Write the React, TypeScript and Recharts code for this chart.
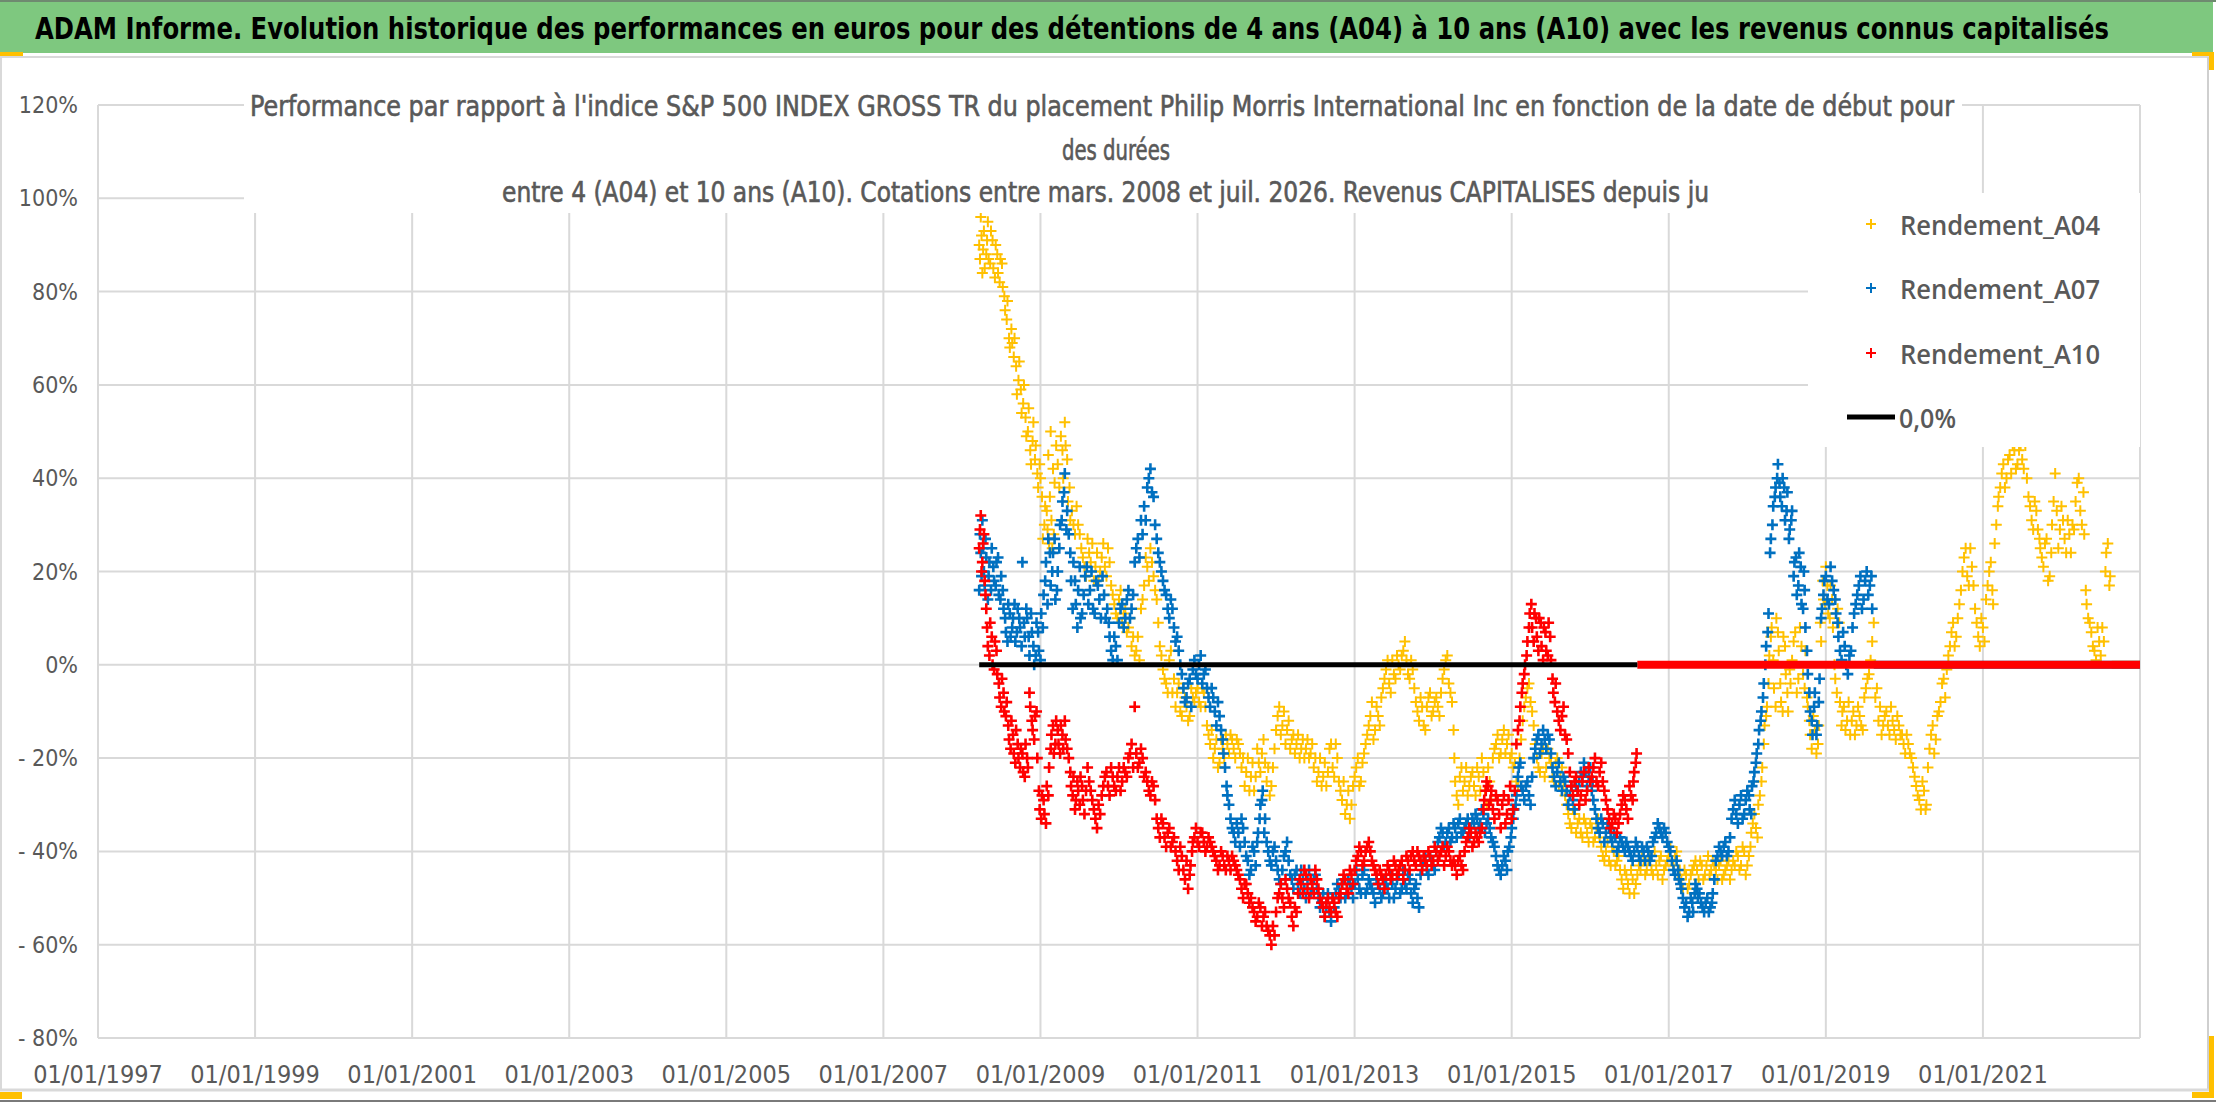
import React from "react";
import { ScatterChart, Scatter, XAxis, YAxis, CartesianGrid } from "recharts";

// dates are decimal years, values are % vs the S&P 500 gross TR index
const xTickYears = [1997, 1999, 2001, 2003, 2005, 2007, 2009, 2011, 2013, 2015, 2017, 2019, 2021];
const yTicks = [-80, -60, -40, -20, 0, 20, 40, 60, 80, 100, 120];

const rendementA04: [number, number][] = [
  [2008.22, 90], [2008.24, 96], [2008.26, 84], [2008.28, 93], [2008.31, 88], [2008.33, 95], [2008.36, 86], [2008.39, 91],
  [2008.42, 83], [2008.45, 88], [2008.48, 82], [2008.51, 86], [2008.54, 79], [2008.57, 74], [2008.6, 70], [2008.63, 72],
  [2008.66, 66], [2008.69, 64], [2008.72, 61], [2008.75, 59], [2008.78, 56], [2008.81, 53], [2008.84, 50], [2008.87, 46],
  [2008.9, 48], [2008.93, 44], [2008.96, 41], [2008.99, 43], [2009.02, 36], [2009.05, 30], [2009.08, 33], [2009.11, 26],
  [2009.14, 31], [2009.17, 28], [2009.1, 45], [2009.13, 50], [2009.16, 42], [2009.2, 47], [2009.24, 38], [2009.28, 46],
  [2009.31, 52], [2009.34, 44], [2009.37, 38], [2009.4, 33], [2009.44, 28], [2009.48, 30], [2009.52, 25], [2009.56, 21],
  [2009.6, 27], [2009.64, 22], [2009.68, 18], [2009.72, 24], [2009.76, 20], [2009.8, 26], [2009.84, 19], [2009.88, 22],
  [2009.92, 15], [2009.96, 11], [2010.0, 14], [2010.04, 9], [2010.08, 12], [2010.12, 8], [2010.16, 4], [2010.2, 2],
  [2010.24, 6], [2010.28, 12], [2010.32, 17], [2010.36, 21], [2010.4, 25], [2010.44, 19], [2010.48, 14], [2010.52, 4],
  [2010.56, -1], [2010.6, -4], [2010.64, 1], [2010.68, -6], [2010.72, -9], [2010.76, -4], [2010.8, -11], [2010.84, -7],
  [2010.88, -12], [2010.92, -5], [2010.96, -8], [2011.0, -5], [2011.04, -9], [2011.08, -6], [2011.12, -13], [2011.16, -17],
  [2011.2, -20], [2011.24, -16], [2011.28, -21], [2011.32, -18], [2011.36, -15], [2011.4, -19], [2011.44, -16], [2011.48, -20],
  [2011.52, -17], [2011.56, -22], [2011.6, -26], [2011.64, -20], [2011.68, -24], [2011.72, -27], [2011.76, -18], [2011.8, -23],
  [2011.84, -16], [2011.88, -25], [2011.92, -28], [2011.96, -22], [2012.0, -14], [2012.04, -9], [2012.08, -13], [2012.12, -17],
  [2012.16, -12], [2012.2, -16], [2012.24, -19], [2012.28, -15], [2012.32, -18], [2012.36, -20], [2012.4, -16], [2012.44, -19],
  [2012.48, -22], [2012.52, -25], [2012.56, -20], [2012.6, -24], [2012.64, -26], [2012.68, -18], [2012.72, -22], [2012.76, -17],
  [2012.8, -25], [2012.84, -29], [2012.88, -32], [2012.92, -27], [2012.96, -30], [2013.0, -24], [2013.04, -20], [2013.08, -25],
  [2013.12, -19], [2013.16, -15], [2013.2, -11], [2013.24, -16], [2013.28, -9], [2013.32, -13], [2013.36, -5], [2013.4, -1],
  [2013.44, -4], [2013.48, 1], [2013.52, -3], [2013.56, 0], [2013.6, 2], [2013.64, 5], [2013.68, -2], [2013.72, 1],
  [2013.76, -5], [2013.8, -10], [2013.84, -7], [2013.88, -13], [2013.92, -9], [2013.96, -6], [2014.0, -10], [2014.04, -7],
  [2014.08, -11], [2014.12, -3], [2014.16, 1], [2014.2, -4], [2014.24, -8], [2014.27, -20], [2014.3, -28], [2014.34, -24],
  [2014.38, -27], [2014.42, -22], [2014.46, -26], [2014.5, -23], [2014.54, -28], [2014.58, -24], [2014.62, -20], [2014.66, -27],
  [2014.7, -22], [2014.74, -29], [2014.78, -18], [2014.82, -15], [2014.86, -19], [2014.9, -14], [2014.94, -17], [2014.98, -20],
  [2015.02, -22], [2015.06, -25], [2015.1, -20], [2015.14, -12], [2015.18, -7], [2015.22, -4], [2015.26, -10], [2015.3, -17],
  [2015.34, -22], [2015.38, -19], [2015.42, -24], [2015.46, -18], [2015.5, -21], [2015.54, -25], [2015.58, -20], [2015.62, -24],
  [2015.66, -26], [2015.7, -30], [2015.74, -34], [2015.78, -31], [2015.82, -36], [2015.86, -33], [2015.9, -37], [2015.94, -34],
  [2015.98, -38], [2016.02, -35], [2016.06, -37], [2016.1, -33], [2016.14, -39], [2016.18, -42], [2016.22, -38], [2016.26, -43],
  [2016.3, -40], [2016.34, -42], [2016.38, -44], [2016.42, -48], [2016.46, -45], [2016.5, -49], [2016.54, -46], [2016.58, -47],
  [2016.62, -43], [2016.66, -40], [2016.7, -45], [2016.74, -42], [2016.78, -44], [2016.82, -40], [2016.86, -45], [2016.9, -41],
  [2016.94, -44], [2016.98, -42], [2017.02, -39], [2017.06, -43], [2017.1, -40], [2017.14, -44], [2017.18, -48], [2017.22, -45],
  [2017.26, -47], [2017.3, -44], [2017.34, -42], [2017.38, -46], [2017.42, -43], [2017.46, -45], [2017.5, -41], [2017.54, -44],
  [2017.58, -43], [2017.62, -46], [2017.66, -42], [2017.7, -45], [2017.74, -43], [2017.78, -46], [2017.82, -42], [2017.86, -40],
  [2017.9, -44], [2017.94, -39], [2017.98, -45], [2018.02, -41], [2018.05, -36], [2018.09, -32], [2018.13, -37], [2018.16, -28],
  [2018.19, -22], [2018.22, -13], [2018.25, -9], [2018.28, 2], [2018.31, 8], [2018.34, -5], [2018.37, 10], [2018.4, 3],
  [2018.43, -8], [2018.46, 6], [2018.49, -2], [2018.52, -10], [2018.55, -4], [2018.59, 5], [2018.63, -6], [2018.67, 8],
  [2018.71, -2], [2018.74, 3], [2018.77, -9], [2018.8, -15], [2018.84, -11], [2018.88, -19], [2018.91, -13], [2018.94, 5],
  [2018.97, 14], [2019.0, 21], [2019.03, 11], [2019.06, 17], [2019.09, 8], [2019.12, -3], [2019.15, 12], [2019.18, -8],
  [2019.21, -10], [2019.25, -14], [2019.29, -8], [2019.33, -12], [2019.37, -15], [2019.41, -9], [2019.45, -13], [2019.49, -7],
  [2019.53, -3], [2019.57, 1], [2019.61, 9], [2019.65, -5], [2019.69, -9], [2019.73, -13], [2019.77, -10], [2019.81, -15],
  [2019.85, -12], [2019.89, -16], [2019.93, -13], [2019.97, -15], [2020.01, -19], [2020.05, -17], [2020.09, -20], [2020.13, -24],
  [2020.17, -28], [2020.21, -31], [2020.25, -27], [2020.28, -30], [2020.32, -18], [2020.36, -13], [2020.4, -16], [2020.44, -10],
  [2020.48, -4], [2020.52, -7], [2020.56, 2], [2020.6, 7], [2020.64, 4], [2020.68, 10], [2020.72, 16], [2020.76, 23],
  [2020.8, 19], [2020.84, 25], [2020.88, 17], [2020.92, 9], [2020.96, 4], [2021.0, 8], [2021.04, 14], [2021.08, 20],
  [2021.12, 16], [2021.15, 26], [2021.19, 34], [2021.22, 38], [2021.26, 43], [2021.3, 40], [2021.34, 45], [2021.38, 47],
  [2021.42, 42], [2021.46, 46], [2021.5, 44], [2021.54, 47], [2021.58, 36], [2021.62, 31], [2021.66, 35], [2021.7, 29],
  [2021.73, 25], [2021.77, 21], [2021.81, 27], [2021.85, 19], [2021.88, 30], [2021.92, 41], [2021.96, 25], [2022.0, 34],
  [2022.04, 27], [2022.08, 31], [2022.12, 24], [2022.16, 29], [2022.2, 39], [2022.24, 33], [2022.28, 37], [2022.31, 16],
  [2022.34, 10], [2022.38, 7], [2022.42, 3], [2022.46, 8], [2022.5, 2], [2022.54, 5], [2022.57, 24], [2022.61, 17],
  // second pass through the cloud
  [2008.23, 87], [2008.25, 92], [2008.27, 89], [2008.29, 85], [2008.32, 91], [2008.34, 87], [2008.37, 93], [2008.4, 85],
  [2008.43, 90], [2008.46, 84], [2008.49, 87], [2008.52, 81], [2008.55, 76], [2008.58, 78], [2008.61, 68], [2008.64, 69],
  [2008.67, 70], [2008.7, 58], [2008.73, 65], [2008.76, 54], [2008.79, 60], [2008.82, 49], [2008.85, 55], [2008.88, 43],
  [2008.91, 52], [2008.94, 47], [2008.97, 38], [2009.0, 40], [2009.03, 27], [2009.06, 34], [2009.09, 29], [2009.12, 36],
  [2009.15, 25], [2009.18, 39], [2009.22, 43], [2009.26, 49], [2009.29, 40], [2009.32, 47], [2009.35, 35], [2009.38, 31],
  [2009.42, 30], [2009.46, 34], [2009.5, 28], [2009.54, 23], [2009.58, 19], [2009.62, 24], [2009.66, 26], [2009.7, 21],
  [2009.74, 18], [2009.78, 23], [2009.82, 21], [2009.86, 25], [2009.9, 17], [2009.94, 13], [2009.98, 10], [2010.02, 16],
  [2010.06, 11], [2010.1, 7], [2010.14, 10], [2010.18, 6], [2010.22, 3], [2010.26, 1], [2010.3, 14], [2010.34, 23],
  [2010.38, 18], [2010.42, 22], [2010.46, 16], [2010.5, 9], [2010.54, 2], [2010.58, -3], [2010.62, -6], [2010.66, 3],
  [2010.7, -3], [2010.74, -6], [2010.78, -10], [2010.82, -5], [2010.86, -9], [2010.9, -11], [2010.94, -7], [2010.98, -6],
  [2011.02, -8], [2011.06, -5], [2011.1, -9], [2011.14, -15], [2011.18, -14], [2011.22, -18], [2011.26, -22], [2011.3, -16],
  [2011.34, -20], [2011.38, -17], [2011.42, -15], [2011.46, -18], [2011.5, -16], [2011.54, -19], [2011.58, -20], [2011.62, -23],
  [2011.66, -27], [2011.7, -21], [2011.74, -24], [2011.78, -21], [2011.82, -19], [2011.86, -21], [2011.9, -22], [2011.94, -26],
  [2011.98, -18], [2012.02, -11], [2012.06, -15], [2012.1, -10], [2012.14, -14], [2012.18, -18], [2012.22, -15], [2012.26, -17],
  [2012.3, -20], [2012.34, -16], [2012.38, -18], [2012.42, -20], [2012.46, -17], [2012.5, -20], [2012.54, -23], [2012.58, -26],
  [2012.62, -21], [2012.66, -23], [2012.7, -17], [2012.74, -24], [2012.78, -20], [2012.82, -27], [2012.86, -25], [2012.9, -30],
  [2012.94, -33], [2012.98, -26], [2013.02, -22], [2013.06, -26], [2013.1, -21], [2013.14, -17], [2013.18, -13], [2013.22, -8],
  [2013.26, -14], [2013.3, -11], [2013.34, -7], [2013.38, -3], [2013.42, 1], [2013.46, -6], [2013.5, -2], [2013.54, 2],
  [2013.58, -1], [2013.62, 3], [2013.66, 1], [2013.7, -3], [2013.74, -1], [2013.78, -8], [2013.82, -12], [2013.86, -9],
  [2013.9, -14], [2013.94, -7], [2013.98, -11], [2014.02, -8], [2014.06, -9], [2014.1, -6], [2014.14, -1], [2014.18, 2],
  [2014.22, -6], [2014.26, -14], [2014.28, -25], [2014.32, -30], [2014.36, -22], [2014.4, -25], [2014.44, -28], [2014.48, -24],
  [2014.52, -26], [2014.56, -22], [2014.6, -27], [2014.64, -23], [2014.68, -30], [2014.72, -25], [2014.76, -20], [2014.8, -17],
  [2014.84, -20], [2014.88, -16], [2014.92, -19], [2014.96, -15], [2015.0, -19], [2015.04, -21], [2015.08, -26], [2015.12, -16],
  [2015.16, -9], [2015.2, -5], [2015.24, -8], [2015.28, -13], [2015.32, -20], [2015.36, -23], [2015.4, -18], [2015.44, -22],
  [2015.48, -20], [2015.52, -24], [2015.56, -21], [2015.6, -26], [2015.64, -22], [2015.68, -28], [2015.72, -32], [2015.76, -35],
  [2015.8, -32], [2015.84, -34], [2015.88, -36], [2015.92, -33], [2015.96, -36], [2016.0, -34], [2016.04, -38], [2016.08, -35],
  [2016.12, -37], [2016.16, -41], [2016.2, -40], [2016.24, -42], [2016.28, -39], [2016.32, -43], [2016.36, -41], [2016.4, -46],
  [2016.44, -44], [2016.48, -47], [2016.52, -44], [2016.56, -49], [2016.6, -45], [2016.64, -44], [2016.68, -42], [2016.72, -44],
  [2016.76, -41], [2016.8, -45], [2016.84, -43], [2016.88, -42], [2016.92, -46], [2016.96, -43], [2017.0, -41], [2017.04, -42],
  [2017.08, -41], [2017.12, -45], [2017.16, -46], [2017.2, -44], [2017.24, -48], [2017.28, -45], [2017.32, -43], [2017.36, -44],
  [2017.4, -42], [2017.44, -46], [2017.48, -43], [2017.52, -45], [2017.56, -42], [2017.6, -44], [2017.64, -43], [2017.68, -46],
  [2017.72, -44], [2017.76, -42], [2017.8, -44], [2017.84, -43], [2017.88, -41], [2017.92, -43], [2017.96, -40], [2018.0, -43],
  [2018.04, -39], [2018.07, -34], [2018.11, -35], [2018.14, -30], [2018.18, -25], [2018.21, -17], [2018.24, -11], [2018.27, -4],
  [2018.3, 6], [2018.33, 1], [2018.36, -9], [2018.39, 7], [2018.42, -4], [2018.45, -10], [2018.48, 4], [2018.51, -6],
  [2018.54, -1], [2018.57, 1], [2018.61, 7], [2018.65, -3], [2018.69, 4], [2018.73, -5], [2018.76, -7], [2018.79, -12],
  [2018.82, -18], [2018.86, -14], [2018.9, -17], [2018.93, 9], [2018.96, 18], [2018.99, 13], [2019.02, 17], [2019.05, 10],
  [2019.08, 14], [2019.11, 0], [2019.14, -6], [2019.17, 9], [2019.2, -13], [2019.23, -9], [2019.27, -12], [2019.31, -15],
  [2019.35, -10], [2019.39, -13], [2019.43, -11], [2019.47, -14], [2019.51, -5], [2019.55, -2], [2019.59, 5], [2019.63, -7],
  [2019.67, -12], [2019.71, -15], [2019.75, -11], [2019.79, -13], [2019.83, -9], [2019.87, -14], [2019.91, -11], [2019.95, -15],
  [2019.99, -17], [2020.03, -15], [2020.07, -19], [2020.11, -22], [2020.15, -26], [2020.19, -29], [2020.23, -25], [2020.27, -31],
  [2020.3, -22], [2020.34, -15], [2020.38, -19], [2020.42, -11], [2020.46, -8], [2020.5, -3], [2020.54, -1], [2020.58, 4],
  [2020.62, 9], [2020.66, 6], [2020.7, 13], [2020.74, 20], [2020.78, 25], [2020.82, 17], [2020.86, 21], [2020.9, 12],
  [2020.94, 6], [2020.98, 10], [2021.02, 5], [2021.06, 17], [2021.1, 22], [2021.13, 13], [2021.17, 30], [2021.2, 36],
  [2021.24, 41], [2021.28, 38], [2021.32, 44], [2021.36, 41], [2021.4, 46], [2021.44, 43], [2021.48, 47], [2021.52, 42],
  [2021.56, 40], [2021.6, 34], [2021.64, 29], [2021.68, 33], [2021.72, 27], [2021.75, 23], [2021.79, 26], [2021.83, 18],
  [2021.87, 24], [2021.9, 35], [2021.94, 33], [2021.98, 29], [2022.02, 31], [2022.06, 24], [2022.1, 28], [2022.14, 30],
  [2022.18, 35], [2022.22, 40], [2022.26, 30], [2022.29, 28], [2022.32, 13], [2022.36, 9], [2022.4, 4], [2022.44, 1],
  [2022.48, 5], [2022.52, 8], [2022.56, 20], [2022.59, 26], [2022.62, 19],
];

const rendementA07: [number, number][] = [
  [2008.22, 16], [2008.24, 24], [2008.26, 31], [2008.28, 20], [2008.3, 27], [2008.33, 14], [2008.35, 22], [2008.38, 25],
  [2008.41, 18], [2008.44, 22], [2008.47, 15], [2008.5, 19], [2008.53, 12], [2008.56, 7], [2008.59, 13], [2008.62, 6],
  [2008.65, 10], [2008.68, 5], [2008.71, 12], [2008.74, 8], [2008.77, 22], [2008.8, 6], [2008.83, 10], [2008.86, 2],
  [2008.89, 7], [2008.92, 0], [2008.95, 9], [2008.98, 3], [2009.01, 11], [2009.04, 15], [2009.07, 22], [2009.1, 27],
  [2009.13, 17], [2009.16, 24], [2009.19, 14], [2009.22, 20], [2009.25, 30], [2009.28, 35], [2009.31, 41], [2009.34, 33],
  [2009.38, 24], [2009.41, 12], [2009.44, 18], [2009.47, 8], [2009.5, 21], [2009.53, 11], [2009.57, 19], [2009.61, 13],
  [2009.65, 20], [2009.69, 11], [2009.73, 17], [2009.77, 10], [2009.81, 15], [2009.85, 12], [2009.88, 6], [2009.92, 1],
  [2009.96, 4], [2010.0, 9], [2010.04, 13], [2010.08, 10], [2010.12, 16], [2010.16, 12], [2010.2, 22], [2010.24, 27],
  [2010.28, 31], [2010.32, 34], [2010.36, 38], [2010.4, 42], [2010.44, 36], [2010.48, 27], [2010.52, 22], [2010.56, 18],
  [2010.6, 15], [2010.64, 10], [2010.68, 12], [2010.72, 5], [2010.76, 3], [2010.8, -2], [2010.84, -8], [2010.88, -4],
  [2010.92, -9], [2010.96, 1], [2011.0, -3], [2011.04, 2], [2011.08, -2], [2011.12, -5], [2011.16, -9], [2011.2, -7],
  [2011.24, -13], [2011.28, -11], [2011.32, -16], [2011.35, -22], [2011.38, -28], [2011.42, -33], [2011.46, -36], [2011.5, -34],
  [2011.54, -39], [2011.58, -35], [2011.62, -41], [2011.66, -45], [2011.7, -39], [2011.74, -43], [2011.77, -36], [2011.8, -30],
  [2011.83, -27], [2011.86, -33], [2011.9, -40], [2011.94, -43], [2011.98, -39], [2012.02, -44], [2012.06, -47], [2012.1, -41],
  [2012.14, -38], [2012.18, -45], [2012.22, -48], [2012.26, -44], [2012.3, -49], [2012.34, -46], [2012.38, -50], [2012.42, -44],
  [2012.46, -48], [2012.5, -45], [2012.54, -50], [2012.58, -51], [2012.62, -54], [2012.66, -49], [2012.7, -55], [2012.74, -52],
  [2012.78, -47], [2012.82, -50], [2012.86, -46], [2012.9, -49], [2012.94, -47], [2012.98, -50], [2013.02, -44], [2013.06, -48],
  [2013.1, -45], [2013.14, -49], [2013.18, -46], [2013.22, -48], [2013.26, -51], [2013.3, -47], [2013.34, -50], [2013.38, -46],
  [2013.42, -48], [2013.46, -45], [2013.5, -50], [2013.54, -46], [2013.58, -49], [2013.62, -44], [2013.66, -48], [2013.7, -46],
  [2013.74, -51], [2013.78, -47], [2013.82, -52], [2013.86, -43], [2013.9, -41], [2013.94, -45], [2013.98, -42], [2014.02, -44],
  [2014.06, -38], [2014.1, -35], [2014.14, -39], [2014.18, -36], [2014.22, -38], [2014.26, -34], [2014.3, -37], [2014.34, -33],
  [2014.38, -36], [2014.42, -34], [2014.46, -37], [2014.5, -33], [2014.54, -32], [2014.58, -35], [2014.62, -31], [2014.66, -36],
  [2014.7, -33], [2014.74, -37], [2014.78, -39], [2014.82, -43], [2014.86, -45], [2014.9, -41], [2014.94, -44], [2014.97, -39],
  [2015.0, -35], [2015.03, -31], [2015.06, -28], [2015.09, -22], [2015.12, -26], [2015.16, -29], [2015.2, -25], [2015.24, -30],
  [2015.28, -20], [2015.32, -16], [2015.36, -19], [2015.4, -14], [2015.44, -18], [2015.48, -16], [2015.52, -22], [2015.56, -26],
  [2015.6, -21], [2015.64, -27], [2015.68, -25], [2015.72, -30], [2015.76, -26], [2015.8, -31], [2015.84, -27], [2015.88, -23],
  [2015.92, -21], [2015.96, -26], [2016.0, -22], [2016.03, -25], [2016.06, -31], [2016.1, -35], [2016.14, -33], [2016.18, -38],
  [2016.22, -34], [2016.26, -37], [2016.3, -36], [2016.34, -40], [2016.38, -37], [2016.42, -39], [2016.46, -38], [2016.5, -40],
  [2016.54, -42], [2016.58, -38], [2016.62, -41], [2016.66, -39], [2016.7, -42], [2016.74, -40], [2016.78, -41], [2016.82, -37],
  [2016.86, -34], [2016.9, -36], [2016.94, -35], [2016.98, -38], [2017.02, -40], [2017.06, -44], [2017.1, -42], [2017.13, -46],
  [2017.16, -48], [2017.2, -52], [2017.24, -54], [2017.28, -50], [2017.31, -53], [2017.34, -47], [2017.37, -50], [2017.41, -51],
  [2017.45, -53], [2017.49, -50], [2017.53, -52], [2017.56, -49], [2017.6, -42], [2017.64, -39], [2017.68, -41], [2017.72, -38],
  [2017.76, -40], [2017.8, -33], [2017.84, -29], [2017.88, -34], [2017.92, -28], [2017.96, -32], [2018.0, -27], [2018.03, -31],
  [2018.06, -26], [2018.09, -23], [2018.12, -19], [2018.15, -14], [2018.18, -10], [2018.21, -4], [2018.24, 4], [2018.27, 11],
  [2018.3, 27], [2018.33, 34], [2018.36, 38], [2018.39, 43], [2018.42, 36], [2018.45, 40], [2018.48, 31], [2018.51, 37],
  [2018.54, 29], [2018.57, 33], [2018.6, 22], [2018.63, 15], [2018.66, 24], [2018.69, 13], [2018.72, 20], [2018.74, 8],
  [2018.77, -2], [2018.8, -10], [2018.83, -15], [2018.86, -6], [2018.89, -13], [2018.92, -3], [2018.95, 12], [2018.98, 18],
  [2019.02, 14], [2019.06, 21], [2019.1, 16], [2019.13, 11], [2019.16, 6], [2019.2, 1], [2019.24, 4], [2019.28, -2],
  [2019.32, 3], [2019.36, 11], [2019.4, 15], [2019.44, 19], [2019.48, 14], [2019.52, 20], [2019.56, 17], [2019.59, 12],
  // second pass through the cloud
  [2008.23, 28], [2008.25, 19], [2008.27, 25], [2008.29, 17], [2008.31, 23], [2008.34, 19], [2008.37, 16], [2008.4, 21],
  [2008.43, 17], [2008.46, 23], [2008.49, 14], [2008.52, 16], [2008.55, 10], [2008.58, 5], [2008.61, 11], [2008.64, 8],
  [2008.67, 13], [2008.7, 7], [2008.73, 10], [2008.76, 4], [2008.79, 9], [2008.82, 12], [2008.85, 6], [2008.88, 11],
  [2008.91, 4], [2008.94, 2], [2008.97, 7], [2009.0, 1], [2009.03, 8], [2009.06, 18], [2009.09, 13], [2009.12, 24],
  [2009.15, 20], [2009.18, 27], [2009.21, 16], [2009.24, 25], [2009.27, 31], [2009.3, 37], [2009.33, 29], [2009.36, 28],
  [2009.39, 18], [2009.42, 22], [2009.45, 13], [2009.48, 16], [2009.51, 10], [2009.55, 15], [2009.59, 21], [2009.63, 16],
  [2009.67, 12], [2009.71, 18], [2009.75, 14], [2009.79, 19], [2009.83, 10], [2009.87, 9], [2009.9, 3], [2009.94, 6],
  [2009.98, 1], [2010.02, 12], [2010.06, 8], [2010.1, 14], [2010.14, 10], [2010.18, 15], [2010.22, 25], [2010.26, 23],
  [2010.3, 28], [2010.34, 31], [2010.38, 40], [2010.42, 37], [2010.46, 30], [2010.5, 24], [2010.54, 20], [2010.58, 16],
  [2010.62, 12], [2010.66, 14], [2010.7, 8], [2010.74, 6], [2010.78, 0], [2010.82, -5], [2010.86, -7], [2010.9, -3],
  [2010.94, -1], [2010.98, -2], [2011.02, 0], [2011.06, -4], [2011.1, -1], [2011.14, -7], [2011.18, -5], [2011.22, -10],
  [2011.26, -8], [2011.3, -14], [2011.33, -19], [2011.37, -26], [2011.4, -30], [2011.44, -35], [2011.48, -38], [2011.52, -36],
  [2011.56, -33], [2011.6, -38], [2011.64, -42], [2011.68, -44], [2011.72, -40], [2011.76, -38], [2011.79, -33], [2011.82, -29],
  [2011.85, -36], [2011.88, -38], [2011.92, -42], [2011.96, -40], [2012.0, -42], [2012.04, -46], [2012.08, -44], [2012.12, -40],
  [2012.16, -42], [2012.2, -46], [2012.24, -45], [2012.28, -47], [2012.32, -44], [2012.36, -48], [2012.4, -46], [2012.44, -49],
  [2012.48, -46], [2012.52, -48], [2012.56, -52], [2012.6, -49], [2012.64, -52], [2012.68, -53], [2012.72, -50], [2012.76, -49],
  [2012.8, -48], [2012.84, -47], [2012.88, -50], [2012.92, -46], [2012.96, -48], [2013.0, -47], [2013.04, -46], [2013.08, -49],
  [2013.12, -44], [2013.16, -48], [2013.2, -47], [2013.24, -49], [2013.28, -46], [2013.32, -48], [2013.36, -49], [2013.4, -47],
  [2013.44, -50], [2013.48, -47], [2013.52, -48], [2013.56, -45], [2013.6, -48], [2013.64, -47], [2013.68, -45], [2013.72, -49],
  [2013.76, -48], [2013.8, -50], [2013.84, -45], [2013.88, -42], [2013.92, -44], [2013.96, -41], [2014.0, -43], [2014.04, -40],
  [2014.08, -37], [2014.12, -36], [2014.16, -38], [2014.2, -35], [2014.24, -37], [2014.28, -35], [2014.32, -34], [2014.36, -36],
  [2014.4, -35], [2014.44, -33], [2014.48, -35], [2014.52, -34], [2014.56, -33], [2014.6, -34], [2014.64, -32], [2014.68, -34],
  [2014.72, -35], [2014.76, -38], [2014.8, -41], [2014.84, -44], [2014.88, -43], [2014.92, -42], [2014.95, -40], [2014.99, -37],
  [2015.02, -33], [2015.05, -30], [2015.08, -24], [2015.11, -21], [2015.14, -27], [2015.18, -26], [2015.22, -28], [2015.26, -24],
  [2015.3, -18], [2015.34, -15], [2015.38, -17], [2015.42, -16], [2015.46, -15], [2015.5, -19], [2015.54, -24], [2015.58, -23],
  [2015.62, -25], [2015.66, -24], [2015.7, -27], [2015.74, -28], [2015.78, -29], [2015.82, -26], [2015.86, -25], [2015.9, -24],
  [2015.94, -23], [2015.98, -24], [2016.02, -27], [2016.04, -29], [2016.08, -33], [2016.12, -36], [2016.16, -34], [2016.2, -36],
  [2016.24, -35], [2016.28, -38], [2016.32, -37], [2016.36, -39], [2016.4, -38], [2016.44, -40], [2016.48, -39], [2016.52, -41],
  [2016.56, -40], [2016.6, -39], [2016.64, -42], [2016.68, -40], [2016.72, -39], [2016.76, -42], [2016.8, -38], [2016.84, -36],
  [2016.88, -35], [2016.92, -37], [2016.96, -36], [2017.0, -39], [2017.04, -42], [2017.08, -45], [2017.12, -44], [2017.15, -47],
  [2017.18, -50], [2017.22, -51], [2017.26, -53], [2017.3, -51], [2017.33, -49], [2017.36, -48], [2017.39, -49], [2017.43, -52],
  [2017.47, -51], [2017.51, -53], [2017.55, -51], [2017.58, -46], [2017.62, -41], [2017.66, -40], [2017.7, -39], [2017.74, -41],
  [2017.78, -37], [2017.82, -31], [2017.86, -32], [2017.9, -30], [2017.94, -33], [2017.98, -29], [2018.02, -28], [2018.05, -32],
  [2018.08, -25], [2018.11, -21], [2018.14, -17], [2018.17, -12], [2018.2, -7], [2018.23, 0], [2018.26, 7], [2018.29, 24],
  [2018.32, 30], [2018.35, 36], [2018.38, 40], [2018.41, 39], [2018.44, 34], [2018.47, 38], [2018.5, 33], [2018.53, 27],
  [2018.56, 31], [2018.59, 19], [2018.62, 23], [2018.65, 17], [2018.68, 21], [2018.71, 12], [2018.73, 16], [2018.76, 3],
  [2018.79, -6], [2018.82, -12], [2018.85, -9], [2018.88, -15], [2018.91, -8], [2018.94, 10], [2018.97, 15], [2019.0, 19],
  [2019.04, 13], [2019.08, 18], [2019.12, 14], [2019.15, 9], [2019.18, 3], [2019.22, 7], [2019.26, 0], [2019.3, 2],
  [2019.34, 8], [2019.38, 13], [2019.42, 17], [2019.46, 12], [2019.5, 18], [2019.54, 15], [2019.58, 19],
];

const rendementA10: [number, number][] = [
  [2008.22, 25], [2008.24, 32], [2008.26, 22], [2008.28, 28], [2008.3, 15], [2008.32, 8], [2008.35, 2], [2008.38, 6],
  [2008.41, -1], [2008.44, 3], [2008.47, -4], [2008.5, -9], [2008.53, -6], [2008.56, -11], [2008.59, -13], [2008.62, -18],
  [2008.65, -15], [2008.68, -21], [2008.71, -17], [2008.74, -22], [2008.77, -19], [2008.8, -24], [2008.83, -20], [2008.86, -6],
  [2008.89, -12], [2008.92, -16], [2008.95, -10], [2008.98, -27], [2009.01, -33], [2009.04, -29], [2009.07, -34], [2009.1, -28],
  [2009.13, -18], [2009.16, -13], [2009.19, -17], [2009.22, -14], [2009.25, -19], [2009.28, -15], [2009.31, -12], [2009.34, -18],
  [2009.38, -23], [2009.41, -28], [2009.44, -31], [2009.47, -25], [2009.5, -30], [2009.53, -26], [2009.56, -32], [2009.6, -22],
  [2009.64, -27], [2009.68, -31], [2009.72, -35], [2009.76, -32], [2009.8, -26], [2009.84, -23], [2009.88, -28], [2009.92, -24],
  [2009.96, -27], [2010.0, -22], [2010.04, -25], [2010.08, -23], [2010.12, -20], [2010.16, -17], [2010.2, -9], [2010.24, -22],
  [2010.28, -18], [2010.32, -24], [2010.36, -25], [2010.4, -28], [2010.44, -26], [2010.48, -33], [2010.52, -37], [2010.56, -34],
  [2010.6, -39], [2010.64, -35], [2010.68, -38], [2010.72, -40], [2010.76, -44], [2010.8, -41], [2010.84, -46], [2010.88, -48],
  [2010.91, -43], [2010.94, -38], [2010.98, -35], [2011.02, -39], [2011.06, -36], [2011.1, -40], [2011.14, -37], [2011.18, -39],
  [2011.22, -41], [2011.26, -44], [2011.3, -40], [2011.34, -43], [2011.38, -41], [2011.42, -44], [2011.46, -42], [2011.5, -44],
  [2011.54, -46], [2011.58, -50], [2011.62, -47], [2011.66, -51], [2011.7, -52], [2011.74, -55], [2011.78, -51], [2011.82, -56],
  [2011.86, -53], [2011.9, -57], [2011.94, -60], [2011.98, -58], [2012.02, -50], [2012.06, -47], [2012.1, -52], [2012.14, -48],
  [2012.18, -51], [2012.22, -56], [2012.26, -53], [2012.3, -46], [2012.34, -49], [2012.38, -45], [2012.42, -50], [2012.46, -47],
  [2012.5, -44], [2012.54, -48], [2012.58, -51], [2012.62, -54], [2012.66, -50], [2012.7, -53], [2012.74, -51], [2012.78, -54],
  [2012.82, -49], [2012.86, -45], [2012.9, -48], [2012.94, -44], [2012.98, -47], [2013.02, -42], [2013.06, -39], [2013.1, -43],
  [2013.14, -40], [2013.18, -38], [2013.22, -42], [2013.26, -44], [2013.3, -47], [2013.34, -45], [2013.38, -48], [2013.42, -43],
  [2013.46, -46], [2013.5, -42], [2013.54, -45], [2013.58, -43], [2013.62, -46], [2013.66, -41], [2013.7, -44], [2013.74, -40],
  [2013.78, -43], [2013.82, -41], [2013.86, -44], [2013.9, -42], [2013.94, -40], [2013.98, -43], [2014.02, -39], [2014.06, -42],
  [2014.1, -40], [2014.14, -43], [2014.18, -39], [2014.22, -42], [2014.26, -42], [2014.3, -45], [2014.34, -41], [2014.38, -44],
  [2014.42, -38], [2014.46, -35], [2014.5, -39], [2014.54, -36], [2014.58, -38], [2014.62, -35], [2014.65, -29], [2014.68, -25],
  [2014.71, -30], [2014.74, -27], [2014.78, -33], [2014.82, -29], [2014.86, -35], [2014.9, -28], [2014.94, -32], [2014.98, -26],
  [2015.02, -31], [2015.06, -17], [2015.1, -12], [2015.13, -6], [2015.16, -2], [2015.19, 2], [2015.22, 8], [2015.25, 13],
  [2015.28, 5], [2015.31, 10], [2015.34, 3], [2015.37, 9], [2015.4, 1], [2015.43, 7], [2015.46, 2], [2015.49, 6],
  [2015.52, -3], [2015.55, -8], [2015.58, -10], [2015.62, -14], [2015.66, -9], [2015.7, -16], [2015.74, -23], [2015.78, -28],
  [2015.82, -24], [2015.86, -30], [2015.9, -25], [2015.94, -29], [2015.98, -22], [2016.02, -24], [2016.06, -20], [2016.1, -26],
  [2016.14, -21], [2016.18, -27], [2016.22, -31], [2016.26, -35], [2016.3, -32], [2016.34, -36], [2016.38, -32], [2016.42, -28],
  [2016.46, -31], [2016.5, -26], [2016.54, -29], [2016.56, -23], [2016.59, -19],
  // second pass through the cloud
  [2008.23, 29], [2008.25, 20], [2008.27, 26], [2008.29, 18], [2008.31, 12], [2008.33, 4], [2008.36, 9], [2008.39, 0],
  [2008.42, 5], [2008.45, -2], [2008.48, -7], [2008.51, -3], [2008.54, -10], [2008.57, -8], [2008.6, -16], [2008.63, -12],
  [2008.66, -19], [2008.69, -14], [2008.72, -20], [2008.75, -18], [2008.78, -23], [2008.81, -17], [2008.84, -22], [2008.87, -9],
  [2008.9, -14], [2008.93, -11], [2008.96, -20], [2008.99, -31], [2009.02, -28], [2009.05, -32], [2009.08, -26], [2009.11, -22],
  [2009.14, -15], [2009.17, -19], [2009.2, -12], [2009.23, -17], [2009.26, -13], [2009.29, -18], [2009.32, -16], [2009.36, -20],
  [2009.39, -26], [2009.42, -24], [2009.45, -29], [2009.48, -27], [2009.51, -24], [2009.54, -29], [2009.58, -27], [2009.62, -25],
  [2009.66, -29], [2009.7, -33], [2009.74, -30], [2009.78, -28], [2009.82, -24], [2009.86, -26], [2009.9, -22], [2009.94, -26],
  [2009.98, -24], [2010.02, -27], [2010.06, -22], [2010.1, -24], [2010.14, -19], [2010.18, -22], [2010.22, -19], [2010.26, -21],
  [2010.3, -20], [2010.34, -23], [2010.38, -27], [2010.42, -25], [2010.46, -29], [2010.5, -35], [2010.54, -33], [2010.58, -37],
  [2010.62, -36], [2010.66, -39], [2010.7, -37], [2010.74, -42], [2010.78, -39], [2010.82, -44], [2010.86, -42], [2010.9, -45],
  [2010.93, -40], [2010.96, -37], [2011.0, -38], [2011.04, -36], [2011.08, -38], [2011.12, -39], [2011.16, -38], [2011.2, -40],
  [2011.24, -42], [2011.28, -43], [2011.32, -41], [2011.36, -44], [2011.4, -42], [2011.44, -41], [2011.48, -43], [2011.52, -45],
  [2011.56, -48], [2011.6, -47], [2011.64, -49], [2011.68, -50], [2011.72, -53], [2011.76, -54], [2011.8, -52], [2011.84, -54],
  [2011.88, -56], [2011.92, -58], [2011.96, -56], [2012.0, -53], [2012.04, -49], [2012.08, -50], [2012.12, -46], [2012.16, -50],
  [2012.2, -54], [2012.24, -52], [2012.28, -49], [2012.32, -47], [2012.36, -44], [2012.4, -48], [2012.44, -46], [2012.48, -49],
  [2012.52, -46], [2012.56, -50], [2012.6, -52], [2012.64, -51], [2012.68, -52], [2012.72, -50], [2012.76, -53], [2012.8, -50],
  [2012.84, -47], [2012.88, -46], [2012.92, -49], [2012.96, -45], [2013.0, -44], [2013.04, -41], [2013.08, -40], [2013.12, -42],
  [2013.16, -39], [2013.2, -40], [2013.24, -43], [2013.28, -45], [2013.32, -44], [2013.36, -46], [2013.4, -45], [2013.44, -44],
  [2013.48, -45], [2013.52, -43], [2013.56, -44], [2013.6, -42], [2013.64, -44], [2013.68, -42], [2013.72, -41], [2013.76, -42],
  [2013.8, -40], [2013.84, -42], [2013.88, -41], [2013.92, -43], [2013.96, -41], [2014.0, -42], [2014.04, -40], [2014.08, -41],
  [2014.12, -39], [2014.16, -41], [2014.2, -40], [2014.24, -43], [2014.28, -43], [2014.32, -42], [2014.36, -43], [2014.4, -40],
  [2014.44, -37], [2014.48, -36], [2014.52, -38], [2014.56, -37], [2014.6, -36], [2014.64, -31], [2014.67, -27], [2014.7, -26],
  [2014.73, -29], [2014.76, -31], [2014.8, -28], [2014.84, -32], [2014.88, -30], [2014.92, -34], [2014.96, -29], [2015.0, -33],
  [2015.04, -27], [2015.08, -14], [2015.11, -9], [2015.14, -4], [2015.17, 0], [2015.2, 5], [2015.23, 11], [2015.26, 8],
  [2015.29, 11], [2015.32, 6], [2015.35, 10], [2015.38, 4], [2015.41, 8], [2015.44, 3], [2015.47, 9], [2015.5, 1],
  [2015.53, -6], [2015.56, -4], [2015.6, -12], [2015.64, -11], [2015.68, -15], [2015.72, -19], [2015.76, -26], [2015.8, -25],
  [2015.84, -27], [2015.88, -28], [2015.92, -23], [2015.96, -27], [2016.0, -25], [2016.04, -22], [2016.08, -25], [2016.12, -23],
  [2016.16, -25], [2016.2, -29], [2016.24, -33], [2016.28, -34], [2016.32, -33], [2016.36, -34], [2016.4, -30], [2016.44, -29],
  [2016.48, -33], [2016.52, -28], [2016.55, -25], [2016.58, -21],
];

// runs of 0 values (no known revenue yet), drawn as a dense band
const zeroRunA04: [number, number][] = [[2022.64, 0], [2023.0, 0]];
const zeroRunA07: [number, number][] = [[2019.61, 0], [2023.0, 0]];
const zeroRunA10: [number, number][] = [[2016.6, 0], [2023.0, 0]];
const zeroLine: [number, number][] = [[2008.22, 0], [2016.6, 0]];

const YELLOW = "#FFC000";
const BLUE = "#0070C0";
const RED = "#FF0000";
const GREY_TEXT = "#595959";
const GRID = "#d9d9d9";
const NARROW = "'Liberation Sans Narrow', 'DejaVu Sans Condensed', 'Arial Narrow', sans-serif";

const pts = (arr: [number, number][]) => arr.map(([x, y]) => ({ x, y }));

const plus = (color: string, r: number, w: number) => (props: any) => {
  const { cx, cy } = props;
  if (cx == null || cy == null) return <g />;
  return (
    <path
      d={`M${cx - r} ${cy}H${cx + r}M${cx} ${cy - r}V${cy + r}`}
      stroke={color}
      strokeWidth={w}
      fill="none"
    />
  );
};

const noDot = () => <g />;

const XTick = (props: any) => {
  const { x, y, payload } = props;
  return (
    <text x={x} y={y + 28} textAnchor="middle" dominantBaseline="central" fontFamily={NARROW} fontSize={25} fill={GREY_TEXT}>
      {`01/01/${payload.value}`}
    </text>
  );
};

const YTick = (props: any) => {
  const { x, y, payload } = props;
  const v = payload.value;
  const label = v < 0 ? `- ${Math.abs(v)}%` : `${v}%`;
  return (
    <text x={x - 12} y={y} textAnchor="end" dominantBaseline="central" fontFamily={NARROW} fontSize={23} fill={GREY_TEXT}>
      {label}
    </text>
  );
};

const legendItems = [
  { label: "Rendement_A04", color: YELLOW, y: 224 },
  { label: "Rendement_A07", color: BLUE, y: 288 },
  { label: "Rendement_A10", color: RED, y: 353 },
];

export default function App() {
  return (
    <div style={{ position: "relative", width: 2216, height: 1102, background: "#fff", overflow: "hidden" }}>
      <style>{"body{margin:0}"}</style>
      <div style={{ position: "absolute", left: 0, top: 0 }}>
        <ScatterChart width={2216} height={1102} margin={{ top: 105, right: 76, bottom: 0, left: 0 }}>
          <CartesianGrid stroke={GRID} strokeWidth={2} />
          <XAxis
            type="number"
            dataKey="x"
            domain={[1997, 2023]}
            ticks={xTickYears}
            tick={<XTick />}
            tickLine={false}
            axisLine={{ stroke: GRID, strokeWidth: 2 }}
            height={64}
            allowDataOverflow
          />
          <YAxis
            type="number"
            dataKey="y"
            domain={[-80, 120]}
            ticks={yTicks}
            tick={<YTick />}
            tickLine={false}
            axisLine={{ stroke: GRID, strokeWidth: 2 }}
            width={98}
            allowDataOverflow
          />
          <Scatter data={pts(rendementA04)} shape={plus(YELLOW, 5.5, 2)} isAnimationActive={false} />
          <Scatter data={pts(rendementA07)} shape={plus(BLUE, 5.5, 2.6)} isAnimationActive={false} />
          <Scatter data={pts(rendementA10)} shape={plus(RED, 5.5, 2.6)} isAnimationActive={false} />
          <Scatter data={pts(zeroRunA04)} shape={noDot} line={{ stroke: YELLOW, strokeWidth: 8 }} isAnimationActive={false} />
          <Scatter data={pts(zeroRunA07)} shape={noDot} line={{ stroke: BLUE, strokeWidth: 8 }} isAnimationActive={false} />
          <Scatter data={pts(zeroRunA10)} shape={noDot} line={{ stroke: RED, strokeWidth: 8 }} isAnimationActive={false} />
          <Scatter data={pts(zeroLine)} shape={noDot} line={{ stroke: "#000", strokeWidth: 5 }} isAnimationActive={false} />
        </ScatterChart>
      </div>

      <svg width={2216} height={1102} style={{ position: "absolute", left: 0, top: 0, pointerEvents: "none" }}>
        {/* banner */}
        <rect x={0} y={0} width={2213} height={53} fill="#7ec87f" />
        <line x1={0} y1={1} x2={2216} y2={1} stroke="#6f8a70" strokeWidth={2} />
        <text x={35} y={39} textLength={2074} lengthAdjust="spacingAndGlyphs" fontFamily={NARROW} fontWeight={700} fontSize={31} fill="#000">
          ADAM Informe. Evolution historique des performances en euros pour des détentions de 4 ans (A04) à 10 ans (A10) avec les revenus connus capitalisés
        </text>
        <rect x={0} y={56} width={2209} height={2} fill={GRID} />
        <rect x={0} y={52} width={23} height={4} fill={YELLOW} />
        <rect x={2192} y={52} width={22} height={4} fill={YELLOW} />
        <rect x={2209} y={52} width={5} height={18} fill={YELLOW} />

        {/* frame */}
        <line x1={1} y1={57} x2={1} y2={1090} stroke={GRID} strokeWidth={2} />
        <line x1={2208} y1={57} x2={2208} y2={1090} stroke="#cfcfcf" strokeWidth={2} />
        <line x1={0} y1={1090} x2={2209} y2={1090} stroke={GRID} strokeWidth={3} />
        <rect x={2209} y={1036} width={5} height={62} fill={YELLOW} />
        <rect x={2192} y={1092} width={22} height={6} fill={YELLOW} />
        <rect x={0} y={1092} width={22} height={7} fill={YELLOW} />
        <line x1={0} y1={1101} x2={2216} y2={1101} stroke="#7a7a7a" strokeWidth={2} />

        {/* chart title */}
        <rect x={244} y={62} width={1718} height={151} fill="#fff" />
        <g fontFamily={NARROW} fontSize={28} fill={GREY_TEXT} stroke={GREY_TEXT} strokeWidth={0.6}>
          <text x={250} y={106} dominantBaseline="central" textLength={1704} lengthAdjust="spacingAndGlyphs">
            Performance par rapport à l'indice S&amp;P 500 INDEX GROSS TR  du placement Philip Morris International Inc en fonction de la date de début pour
          </text>
          <text x={1062} y={150} dominantBaseline="central" textLength={108} lengthAdjust="spacingAndGlyphs">
            des durées
          </text>
          <text x={502} y={192} dominantBaseline="central" textLength={1207} lengthAdjust="spacingAndGlyphs">
            entre 4 (A04) et 10 ans (A10). Cotations entre mars. 2008 et juil. 2026. Revenus CAPITALISES depuis ju
          </text>
        </g>

        {/* legend */}
        <rect x={1808} y={193} width={332} height={254} fill="#fff" />
        <g fontFamily="'Open Sans', 'Noto Sans', sans-serif" fontWeight={600} fontSize={27} fill={GREY_TEXT}>
          {legendItems.map((it) => (
            <g key={it.label}>
              <path d={`M${1866} ${it.y}H${1876}M${1871} ${it.y - 5}V${it.y + 5}`} stroke={it.color} strokeWidth={2} />
              <text x={1900} y={it.y} dominantBaseline="central" textLength={200} lengthAdjust="spacingAndGlyphs">
                {it.label}
              </text>
            </g>
          ))}
          <line x1={1847} y1={417} x2={1895} y2={417} stroke="#000" strokeWidth={5} />
          <text x={1899} y={417} dominantBaseline="central" textLength={57} lengthAdjust="spacingAndGlyphs">
            0,0%
          </text>
        </g>
      </svg>
    </div>
  );
}
